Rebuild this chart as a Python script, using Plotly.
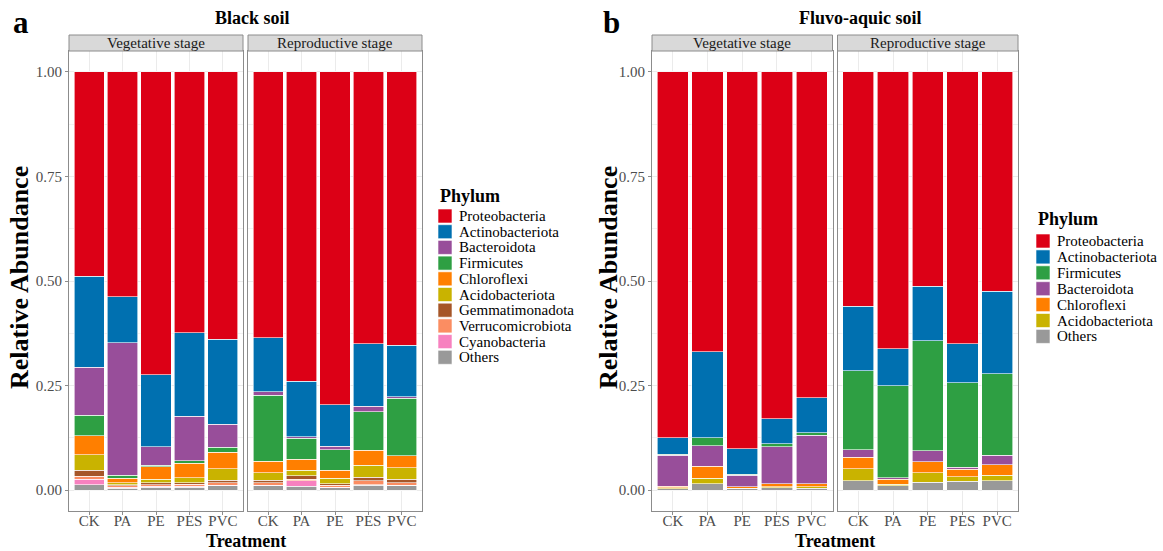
import plotly.graph_objects as go

W, H = 1163, 551
SERIF = "Liberation Serif, Times New Roman, serif"
BORDER = "#8C8C8C"
GRID = "#EBEBEB"

treatments = ["CK", "PA", "PE", "PES", "PVC"]
stages = ["Vegetative stage", "Reproductive stage"]

# ---- panel a: Black soil (legend order) ----
black_phyla = ["Proteobacteria", "Actinobacteriota", "Bacteroidota", "Firmicutes",
               "Chloroflexi", "Acidobacteriota", "Gemmatimonadota",
               "Verrucomicrobiota", "Cyanobacteria", "Others"]
black_colors = ["#DC0016", "#0070B0", "#984E9A", "#2E9F43", "#FF7F00",
                "#C9B300", "#A65628", "#FB8D62", "#F781BF", "#999999"]

black_veg = {
    "Proteobacteria":    [0.489, 0.538, 0.724, 0.624, 0.639],
    "Actinobacteriota":  [0.217, 0.110, 0.172, 0.200, 0.203],
    "Bacteroidota":      [0.115, 0.317, 0.044, 0.106, 0.056],
    "Firmicutes":        [0.049, 0.007, 0.004, 0.006, 0.012],
    "Chloroflexi":       [0.045, 0.011, 0.030, 0.034, 0.039],
    "Acidobacteriota":   [0.037, 0.004, 0.009, 0.012, 0.027],
    "Gemmatimonadota":   [0.015, 0.003, 0.004, 0.004, 0.006],
    "Verrucomicrobiota": [0.007, 0.003, 0.004, 0.005, 0.006],
    "Cyanobacteria":     [0.013, 0.003, 0.002, 0.002, 0.002],
    "Others":            [0.013, 0.004, 0.007, 0.007, 0.010],
}
black_rep = {
    "Proteobacteria":    [0.636, 0.740, 0.796, 0.650, 0.654],
    "Actinobacteriota":  [0.129, 0.133, 0.099, 0.150, 0.123],
    "Bacteroidota":      [0.008, 0.003, 0.008, 0.013, 0.003],
    "Firmicutes":        [0.158, 0.050, 0.049, 0.092, 0.138],
    "Chloroflexi":       [0.028, 0.027, 0.020, 0.035, 0.028],
    "Acidobacteriota":   [0.017, 0.013, 0.013, 0.029, 0.028],
    "Gemmatimonadota":   [0.007, 0.008, 0.004, 0.009, 0.008],
    "Verrucomicrobiota": [0.005, 0.004, 0.004, 0.009, 0.006],
    "Cyanobacteria":     [0.002, 0.013, 0.001, 0.001, 0.001],
    "Others":            [0.010, 0.009, 0.006, 0.012, 0.011],
}

# ---- panel b: Fluvo-aquic soil (legend order) ----
fluvo_phyla = ["Proteobacteria", "Actinobacteriota", "Firmicutes", "Bacteroidota",
               "Chloroflexi", "Acidobacteriota", "Others"]
fluvo_colors = ["#DC0016", "#0070B0", "#2E9F43", "#984E9A", "#FF7F00",
                "#C9B300", "#999999"]

fluvo_veg = {
    "Proteobacteria":   [0.875, 0.669, 0.901, 0.829, 0.779],
    "Actinobacteriota": [0.039, 0.206, 0.061, 0.060, 0.084],
    "Firmicutes":       [0.003, 0.019, 0.002, 0.007, 0.006],
    "Bacteroidota":     [0.074, 0.049, 0.028, 0.089, 0.116],
    "Chloroflexi":      [0.003, 0.029, 0.003, 0.007, 0.007],
    "Acidobacteriota":  [0.003, 0.013, 0.002, 0.002, 0.004],
    "Others":           [0.003, 0.015, 0.003, 0.006, 0.004],
}
fluvo_rep = {
    "Proteobacteria":   [0.560, 0.662, 0.512, 0.650, 0.525],
    "Actinobacteriota": [0.155, 0.088, 0.131, 0.093, 0.197],
    "Firmicutes":       [0.189, 0.221, 0.263, 0.202, 0.195],
    "Bacteroidota":     [0.018, 0.003, 0.026, 0.005, 0.022],
    "Chloroflexi":      [0.027, 0.012, 0.026, 0.018, 0.025],
    "Acidobacteriota":  [0.029, 0.004, 0.023, 0.011, 0.014],
    "Others":           [0.022, 0.010, 0.019, 0.021, 0.022],
}


def px(x):
    return x / W


def py(y):
    return 1 - y / H


fig = go.Figure()

# facet layout (pixels)
facets = [
    dict(ax="x", ay="y", x0=69, x1=243, data=black_veg, phyla=black_phyla, colors=black_colors),
    dict(ax="x2", ay="y2", x0=248, x1=422, data=black_rep, phyla=black_phyla, colors=black_colors),
    dict(ax="x3", ay="y3", x0=652, x1=832.5, data=fluvo_veg, phyla=fluvo_phyla, colors=fluvo_colors),
    dict(ax="x4", ay="y4", x0=837.5, x1=1018, data=fluvo_rep, phyla=fluvo_phyla, colors=fluvo_colors),
]
PANEL_TOP, PANEL_BOT = 51, 511
STRIP_TOP = 35

for f in facets:
    # add bottom of stack first (reverse of legend order)
    for name, col in zip(reversed(f["phyla"]), reversed(f["colors"])):
        fig.add_trace(go.Bar(
            x=treatments, y=f["data"][name], name=name,
            marker=dict(color=col, line=dict(color="white", width=0.6)),
            width=0.9, xaxis=f["ax"], yaxis=f["ay"], showlegend=False,
            hovertemplate=name + ": %{y:.3f}<extra></extra>",
        ))

xbase = dict(type="category", categoryorder="array", categoryarray=treatments,
             range=[-0.6, 4.6], showline=True, linecolor=BORDER, linewidth=1,
             mirror=True, ticks="outside", ticklen=3, tickcolor=BORDER,
             showgrid=True, gridcolor=GRID, gridwidth=1, zeroline=False,
             ticklabelstandoff=-7,
             tickfont=dict(family=SERIF, size=15, color="#4D4D4D"))
ybase = dict(range=[-0.05, 1.05], tickvals=[0, 0.25, 0.5, 0.75, 1.0],
             ticktext=["0.00", "0.25", "0.50", "0.75", "1.00"],
             showline=True, linecolor=BORDER, linewidth=1, mirror=True,
             ticks="outside", ticklen=3, tickcolor=BORDER,
             showgrid=True, gridcolor=GRID, gridwidth=1, zeroline=False,
             minor=dict(tickvals=[0.125, 0.375, 0.625, 0.875], showgrid=True,
                        gridcolor="#F2F2F2", gridwidth=0.6, ticks=""),
             tickfont=dict(family=SERIF, size=15, color="#4D4D4D"),
             domain=[py(PANEL_BOT), py(PANEL_TOP)])

layout_axes = {}
for i, f in enumerate(facets):
    xk = "xaxis" if i == 0 else "xaxis%d" % (i + 1)
    yk = "yaxis" if i == 0 else "yaxis%d" % (i + 1)
    xa = dict(xbase)
    xa.update(domain=[px(f["x0"]), px(f["x1"])], anchor=f["ay"])
    ya = dict(ybase)
    ya.update(anchor=f["ax"])
    if i in (1, 3):
        ya.update(showticklabels=False, ticks="")
    layout_axes[xk] = xa
    layout_axes[yk] = ya

shapes = []
annotations = []

# strips
for i, f in enumerate(facets):
    shapes.append(dict(type="rect", xref="paper", yref="paper",
                       x0=px(f["x0"]), x1=px(f["x1"]),
                       y0=py(PANEL_TOP), y1=py(STRIP_TOP),
                       fillcolor="#D9D9D9", line=dict(color=BORDER, width=1)))
    annotations.append(dict(text=stages[i % 2], xref="paper", yref="paper",
                            x=px((f["x0"] + f["x1"]) / 2), y=py(43),
                            showarrow=False, xanchor="center", yanchor="middle",
                            font=dict(family=SERIF, size=15, color="#1A1A1A")))

# titles, panel letters, axis titles
texts = [
    ("<b>Black soil</b>", 252, 18, 18, 0),
    ("<b>Fluvo-aquic soil</b>", 860, 18, 18, 0),
    ("<b>a</b>", 21, 23, 31, 0),
    ("<b>b</b>", 611, 23, 31, 0),
    ("<b>Treatment</b>", 245.5, 541, 18, 0),
    ("<b>Treatment</b>", 835, 541, 18, 0),
    ("<b>Relative Abundance</b>", 19, 278, 26, -90),
    ("<b>Relative Abundance</b>", 608, 278, 26, -90),
]
for t, x, y, s, ang in texts:
    annotations.append(dict(text=t, xref="paper", yref="paper", x=px(x), y=py(y),
                            showarrow=False, xanchor="center", yanchor="middle",
                            textangle=ang, font=dict(family=SERIF, size=s, color="black")))


# manual legends (ggplot-style compact)
def add_legend(phyla, colors, x_left, title_y, first_y, step):
    annotations.append(dict(text="<b>Phylum</b>", xref="paper", yref="paper",
                            x=px(x_left), y=py(title_y), showarrow=False,
                            xanchor="left", yanchor="middle",
                            font=dict(family=SERIF, size=18, color="black")))
    for k, (name, col) in enumerate(zip(phyla, colors)):
        yc = first_y + k * step
        shapes.append(dict(type="rect", xref="paper", yref="paper",
                           x0=px(x_left), x1=px(x_left + 14),
                           y0=py(yc + 7), y1=py(yc - 7),
                           fillcolor=col, line=dict(color="white", width=0.6)))
        annotations.append(dict(text=name, xref="paper", yref="paper",
                                x=px(x_left + 19), y=py(yc), showarrow=False,
                                xanchor="left", yanchor="middle",
                                font=dict(family=SERIF, size=15, color="black")))


add_legend(black_phyla, black_colors, 438, 196, 216, 15.7)
add_legend(fluvo_phyla, fluvo_colors, 1036, 219, 241, 15.9)

fig.update_layout(
    width=W, height=H, margin=dict(l=0, r=0, t=0, b=0),
    paper_bgcolor="white", plot_bgcolor="white",
    barmode="stack", showlegend=False,
    font=dict(family=SERIF, color="black"),
    shapes=shapes, annotations=annotations,
    **layout_axes,
)

fig.write_html("out.html", config={"displayModeBar": False},
               post_script="document.body.style.margin='0px';")
